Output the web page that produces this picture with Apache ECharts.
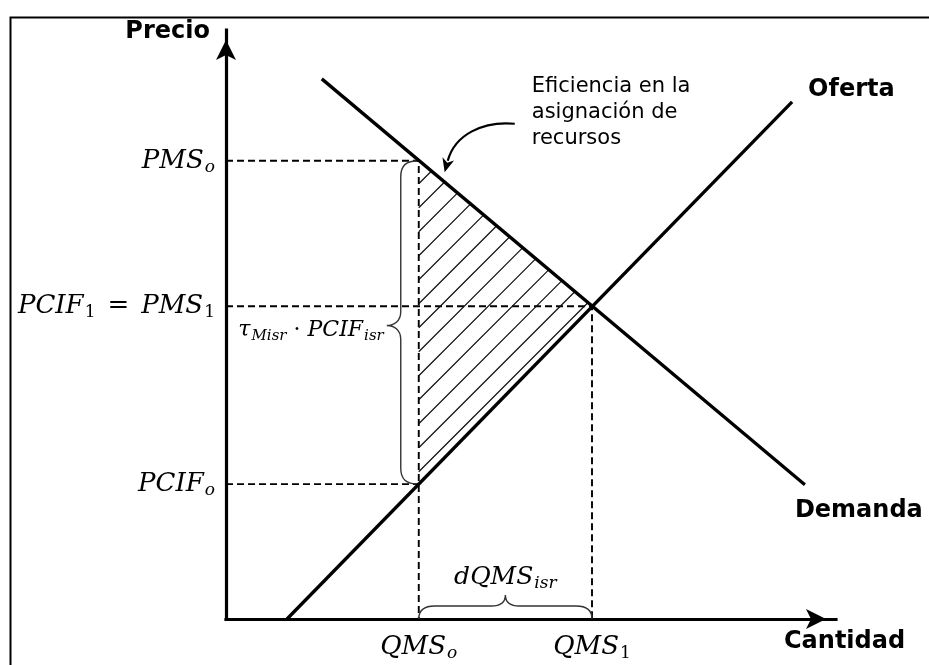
<!DOCTYPE html>
<html><head><meta charset="utf-8">
<script src="https://cdn.jsdelivr.net/npm/echarts@6/dist/echarts.min.js"></script>
<style>html,body{margin:0;padding:0;background:#fff}#c{width:929px;height:665px}</style>
</head><body><div id="c"></div>
<script>
// ---- Data (abstract units: Cantidad on x, Precio on y, both 0..10) ----
const supplyQ = [1.00, 9.28];
const supplyP = [0.00, 8.78];
const demandQ = [1.57, 9.49];
const demandP = [9.17, 2.28];
const qTicks = [3.16, 6.00];                 // QMS_o, QMS_1
const qTickLabels = ['{m|QMS}{s|o}', '{m|QMS}{u|1}'];
const pTicks = [7.78, 5.31, 2.29];           // PMS_o, PCIF_1 = PMS_1, PCIF_o
const pTickLabels = ['{m|PMS}{s|o}', '{m|PCIF}{u|1}{e|=}{m|PMS}{u|1}', '{m|PCIF}{s|o}'];
const curveNames = ['Oferta', 'Demanda'];
const axisNames = ['Cantidad', 'Precio'];
const braceLabels = ['{m|τ}{s|Misr}{d|·}{m|PCIF}{s|isr}', '{m|dQMS}{s|isr}'];
const noteText = 'Eficiencia en la\nasignación de\nrecursos';

// ---- Styles ----
const serif = 'DejaVu Serif', sans = 'DejaVu Sans', ink = '#000';
function mathRich(fs) {
  const sub = Math.round(fs * 0.66), pad = Math.round(fs * 0.5), lh = Math.round(fs * 1.2);
  return {
    m: {fontFamily: serif, fontStyle: 'italic', fontSize: fs, lineHeight: lh, color: ink, fill: ink},
    s: {fontFamily: serif, fontStyle: 'italic', fontSize: sub, lineHeight: sub, padding: [pad, 0, 0, 1], color: ink, fill: ink},
    u: {fontFamily: serif, fontStyle: 'normal', fontSize: sub, lineHeight: sub, padding: [pad, 0, 0, 1], color: ink, fill: ink},
    e: {fontFamily: serif, fontSize: fs, lineHeight: lh, padding: [0, Math.round(fs * 0.45), 0, Math.round(fs * 0.45)], color: ink, fill: ink},
    d: {fontFamily: serif, fontSize: fs, lineHeight: lh, padding: [0, Math.round(fs * 0.3), 0, Math.round(fs * 0.3)], color: ink, fill: ink}
  };
}
const pairs = (xs, ys) => xs.map((x, i) => [x, ys[i]]);
const dashed = {color: '#000', width: 1.9, type: [7, 4]};

function boldText(text, x, y, align) {
  return {type: 'text', x: x, y: y, silent: true,
    style: {text: text, fill: '#000', fontFamily: sans, fontWeight: 'bold', fontSize: 24, align: align, verticalAlign: 'middle'}};
}

function renderAnn(params, api) {
  const c = p => api.coord(p);
  const A = c([qTicks[0], pTicks[0]]);   // on demand
  const B = c([qTicks[1], pTicks[1]]);   // equilibrium
  const C = c([qTicks[0], pTicks[2]]);   // on supply
  const O = c([0, 0]);
  const children = [];

  // hatch lines (screen direction "/"), clipped to triangle A-B-C
  const tri = [A, B, C];
  const step = 24;
  const kMin = Math.min(A[0] + A[1], B[0] + B[1], C[0] + C[1]);
  const kMax = Math.max(A[0] + A[1], B[0] + B[1], C[0] + C[1]);
  for (let k = kMin + 23; k < kMax; k += step) {
    const pts = [];
    for (let i = 0; i < 3; i++) {
      const P = tri[i], Q = tri[(i + 1) % 3];
      const sp = P[0] + P[1], sq = Q[0] + Q[1];
      if (Math.abs(sq - sp) < 1e-9) continue;
      const t = (k - sp) / (sq - sp);
      if (t >= 0 && t <= 1) pts.push([P[0] + t * (Q[0] - P[0]), P[1] + t * (Q[1] - P[1])]);
    }
    if (pts.length >= 2) {
      pts.sort((a, b) => a[0] - b[0]);
      const p1 = pts[0], p2 = pts[pts.length - 1];
      children.push({type: 'line', silent: true, shape: {x1: p1[0], y1: p1[1], x2: p2[0], y2: p2[1]},
        style: {stroke: '#111', lineWidth: 1.2}});
    }
  }

  // vertical brace (PMS_o .. PCIF_o)
  const xs = A[0], y0 = A[1], y1 = C[1];
  const xb = xs - 18, xt = xs - 32, ym = (y0 + y1) / 2 + 3;
  const vb = `M${xs},${y0} C${xb + 5},${y0} ${xb},${y0 + 5} ${xb},${y0 + 16} L${xb},${ym - 14} C${xb},${ym - 4} ${xt + 7},${ym} ${xt},${ym} C${xt + 7},${ym} ${xb},${ym + 4} ${xb},${ym + 14} L${xb},${y1 - 16} C${xb},${y1 - 5} ${xb + 5},${y1} ${xs},${y1}`;
  children.push({type: 'path', silent: true, shape: {pathData: vb}, style: {stroke: '#333', lineWidth: 1.4, fill: null}});
  children.push({type: 'text', silent: true, x: xt - 3, y: ym + 5,
    style: {text: braceLabels[0], rich: mathRich(22), align: 'right', verticalAlign: 'middle'}});

  // horizontal brace (QMS_o .. QMS_1)
  const xL = A[0], xR = B[0], ya = O[1];
  const yb = ya - 13, yt = ya - 24, xm = (xL + xR) / 2;
  const hb = `M${xL},${ya} C${xL},${yb + 5} ${xL + 5},${yb} ${xL + 16},${yb} L${xm - 14},${yb} C${xm - 4},${yb} ${xm},${yt + 7} ${xm},${yt} C${xm},${yt + 7} ${xm + 4},${yb} ${xm + 14},${yb} L${xR - 16},${yb} C${xR - 5},${yb} ${xR},${yb + 5} ${xR},${ya}`;
  children.push({type: 'path', silent: true, shape: {pathData: hb}, style: {stroke: '#333', lineWidth: 1.4, fill: null}});
  children.push({type: 'text', silent: true, x: xm, y: ya - 42,
    style: {text: braceLabels[1], rich: mathRich(25), align: 'center', verticalAlign: 'middle'}});

  // note + curved arrow pointing at the hatched area
  children.push({type: 'text', silent: true, x: A[0] + 113, y: A[1] - 87,
    style: {text: noteText, fill: '#000', fontFamily: sans, fontSize: 21, lineHeight: 26, align: 'left', verticalAlign: 'top'}});
  const s0 = [A[0] + 96, A[1] - 37], base = [A[0] + 29, A[1]];
  children.push({type: 'path', silent: true,
    shape: {pathData: `M${s0[0]},${s0[1]} C${s0[0] - 32},${s0[1] - 3} ${base[0] + 7},${base[1] - 26} ${base[0]},${base[1]}`},
    style: {stroke: '#000', lineWidth: 2.2, fill: null}});
  const dir = [-0.26, 0.966], perp = [0.966, 0.26];
  const tip = [base[0] + 12 * dir[0], base[1] + 12 * dir[1]];
  const notch = [base[0] + 2 * dir[0], base[1] + 2 * dir[1]];
  children.push({type: 'polygon', silent: true,
    shape: {points: [tip, [base[0] - 2 * dir[0] + 6 * perp[0], base[1] - 2 * dir[1] + 6 * perp[1]], notch,
      [base[0] - 2 * dir[0] - 6 * perp[0], base[1] - 2 * dir[1] - 6 * perp[1]]]},
    style: {fill: '#000'}});

  // curve and axis names
  const sEnd = c([supplyQ[1], supplyP[1]]);
  const dEnd = c([demandQ[1], demandP[1]]);
  const yTop = c([0, 10]);
  const xEnd = c([10, 0]);
  children.push(boldText(curveNames[0], sEnd[0] + 16, sEnd[1] - 12, 'left'));
  children.push(boldText(curveNames[1], dEnd[0] - 10, dEnd[1] + 26, 'left'));
  children.push(boldText(axisNames[0], xEnd[0] - 52, xEnd[1] + 23, 'left'));
  children.push(boldText(axisNames[1], yTop[0] - 16, yTop[1] + 2, 'right'));

  return {type: 'group', children: children};
}

const chart = echarts.init(document.getElementById('c'), null, {renderer: 'canvas'});
const axisCommon = {
  type: 'value', min: 0, max: 10,
  axisTick: {show: false}, axisLabel: {show: false}, splitLine: {show: false},
  axisLine: {show: true, onZero: true, symbol: ['none', 'arrow'], symbolSize: [15, 20], symbolOffset: [0, -10],
    lineStyle: {color: '#000', width: 3.2, cap: 'square'}}
};
const tickLabel = (pos, dist, fmt) => ({show: true, position: pos, distance: dist, color: '#000',
  formatter: fmt, rich: mathRich(26)});
chart.setOption({
  animation: false,
  backgroundColor: '#fff',
  grid: {left: 226, right: 93, top: 30, bottom: 46, containLabel: false},
  xAxis: axisCommon,
  yAxis: axisCommon,
  graphic: [{type: 'rect', left: 8, top: 15, silent: true, z: -10,
    shape: {width: 1000, height: 800}, style: {fill: null, stroke: '#000', lineWidth: 2}}],
  series: [
    {type: 'custom', name: 'anotaciones', renderItem: renderAnn, data: [[0, 0]], clip: false, silent: true, z: 3},
    {type: 'line', name: 'guia1', data: [[0, pTicks[0]], [qTicks[0], pTicks[0]], [qTicks[0], 0]],
      symbol: 'none', lineStyle: dashed, silent: true, z: 2},
    {type: 'line', name: 'guia2', data: [[0, pTicks[1]], [qTicks[1], pTicks[1]], [qTicks[1], 0]],
      symbol: 'none', lineStyle: dashed, silent: true, z: 2},
    {type: 'line', name: 'guia3', data: [[0, pTicks[2]], [qTicks[0], pTicks[2]]],
      symbol: 'none', lineStyle: dashed, silent: true, z: 2},
    {type: 'line', name: curveNames[0], data: pairs(supplyQ, supplyP), symbol: 'none',
      lineStyle: {color: '#000', width: 3.3}, silent: true, z: 5},
    {type: 'line', name: curveNames[1], data: pairs(demandQ, demandP), symbol: 'none',
      lineStyle: {color: '#000', width: 3.3}, silent: true, z: 5},
    {type: 'scatter', name: 'precios', data: pTicks.map(p => [0, p]), symbol: 'circle', symbolSize: 0, silent: true, clip: false,
      itemStyle: {color: '#000', opacity: 1}, label: tickLabel('left', 11, p => pTickLabels[p.dataIndex])},
    {type: 'scatter', name: 'cantidades', data: qTicks.map(q => [q, 0]), symbol: 'circle', symbolSize: 0, silent: true, clip: false,
      itemStyle: {color: '#000', opacity: 1}, label: tickLabel('bottom', 13, p => qTickLabels[p.dataIndex])}
  ]
});
</script>
</body></html>
